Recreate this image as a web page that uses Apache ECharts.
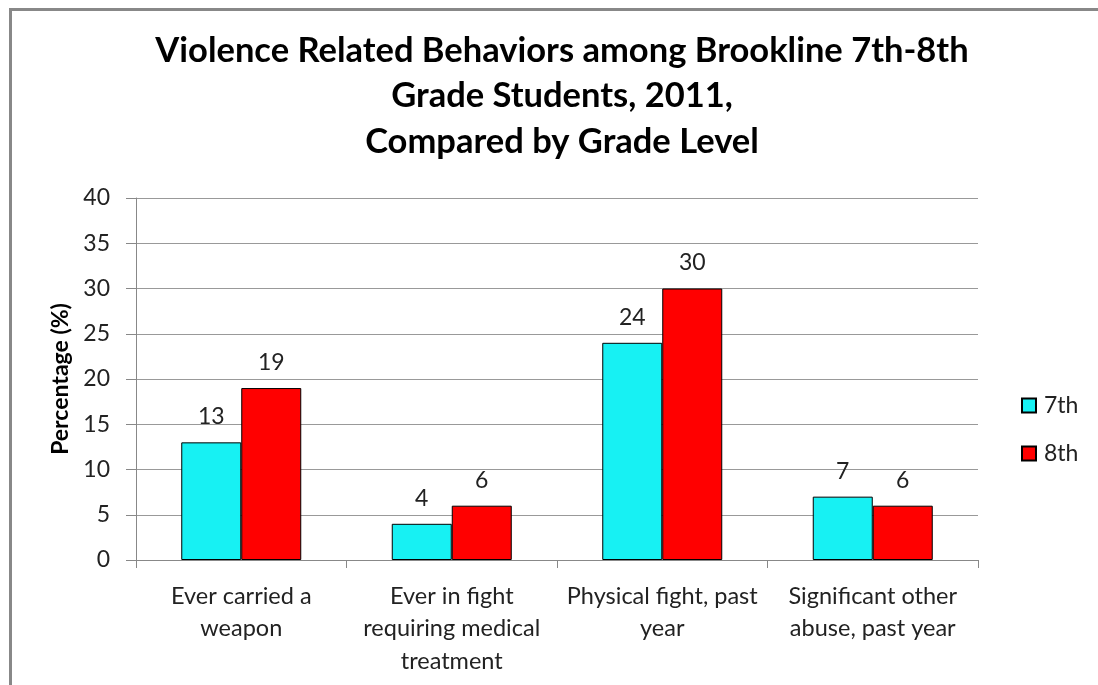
<!DOCTYPE html>
<html>
<head>
<meta charset="utf-8">
<script src="https://cdn.jsdelivr.net/npm/echarts@6/dist/echarts.min.js"></script>
<style>
html,body{margin:0;padding:0;background:#fff;}
#c{width:1098px;height:685px;}
</style>
</head>
<body>
<div id="c"></div>
<script>
const categories = ['Ever carried a\nweapon', 'Ever in fight\nrequiring medical\ntreatment', 'Physical fight, past\nyear', 'Significant other\nabuse, past year'];
const grade7 = [13, 4, 24, 7];
const grade8 = [19, 6, 30, 6];
const seriesNames = ['7th', '8th'];
const titleText = 'Violence Related Behaviors among Brookline 7th-8th\nGrade Students, 2011,\nCompared by Grade Level';
const yAxisName = 'Percentage (%)';

const FONT = 'Lato, "Open Sans", sans-serif';
const chart = echarts.init(document.getElementById('c'), null, {renderer: 'canvas'});
const labelCfg = {show: true, position: 'top', distance: 14, fontSize: 23, color: '#222', fontFamily: FONT};
chart.setOption({
  animation: false,
  backgroundColor: '#fff',
  graphic: [{
    type: 'rect', left: 8, top: 7, shape: {width: 1200, height: 800},
    style: {fill: 'none', stroke: '#888', lineWidth: 3}, silent: true, z: -1
  }],
  title: {
    text: titleText, left: 557, textAlign: 'center', top: 23,
    textStyle: {fontFamily: FONT, fontWeight: 'bold', fontSize: 34.5, lineHeight: 45.5, color: '#000'}
  },
  legend: {
    orient: 'vertical', left: 1016, top: 389, itemWidth: 14, itemHeight: 14, itemGap: 25,
    icon: 'rect',
    textStyle: {fontFamily: FONT, fontSize: 23, color: '#222', padding: [0, 0, 0, 3]},
    data: seriesNames
  },
  grid: {left: 136, right: 120, top: 198, bottom: 125, containLabel: false},
  xAxis: {
    type: 'category', data: categories,
    axisLine: {lineStyle: {color: '#888'}},
    axisTick: {show: true, alignWithLabel: false, length: 8, lineStyle: {color: '#888'}},
    axisLabel: {interval: 0, fontFamily: FONT, fontSize: 23.5, lineHeight: 32.5, color: '#222', margin: 20}
  },
  yAxis: {
    type: 'value', min: 0, max: 40, interval: 5,
    name: yAxisName, nameLocation: 'middle', nameGap: 62, nameRotate: 90,
    nameTextStyle: {fontFamily: FONT, fontWeight: 'bold', fontSize: 23, color: '#000'},
    axisLine: {show: true, lineStyle: {color: '#888'}},
    axisTick: {show: true, length: 10, lineStyle: {color: '#888'}},
    axisLabel: {fontFamily: FONT, fontSize: 23, color: '#222', margin: 26},
    splitLine: {lineStyle: {color: '#999'}}
  },
  series: [
    {name: seriesNames[0], type: 'bar', data: grade7, barWidth: 60, barGap: '0%',
     itemStyle: {color: '#17F1F3', borderColor: '#000', borderWidth: 1}, label: labelCfg},
    {name: seriesNames[1], type: 'bar', data: grade8, barWidth: 60, barGap: '0%',
     itemStyle: {color: '#FF0000', borderColor: '#000', borderWidth: 1}, label: labelCfg}
  ]
});
</script>
</body>
</html>
